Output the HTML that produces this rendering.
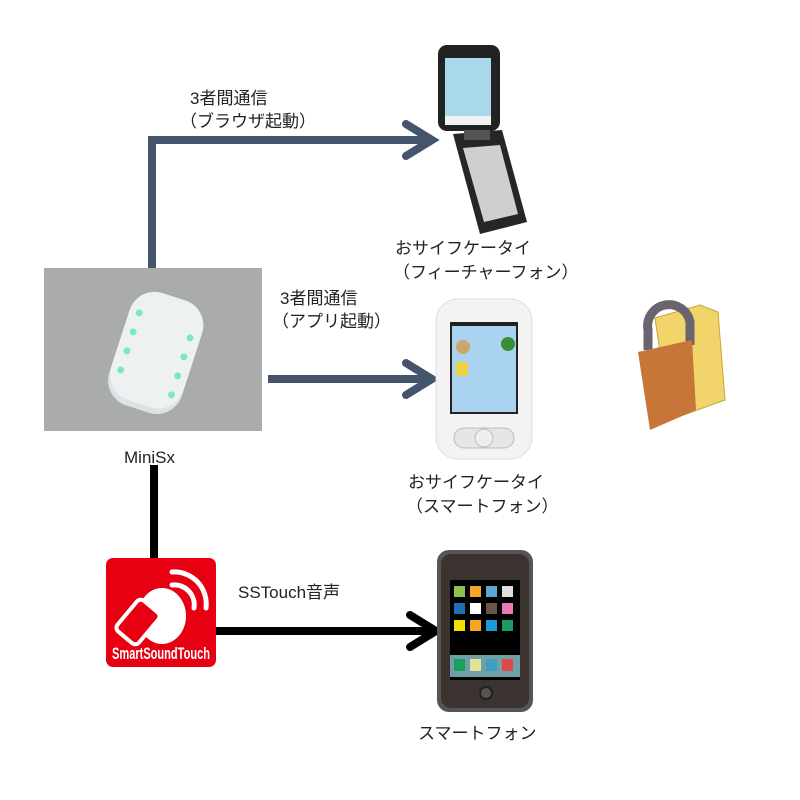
<!DOCTYPE html>
<html><head><meta charset="utf-8"><style>
html,body{margin:0;padding:0;background:#fff;width:800px;height:800px;overflow:hidden}
text{font-family:"Liberation Sans","Noto Sans CJK JP",sans-serif;font-size:17px;fill:#222}
</style></head><body>
<svg width="800" height="800" viewBox="0 0 800 800" xmlns="http://www.w3.org/2000/svg">
<g stroke="#44546a" stroke-width="8" fill="none" stroke-linejoin="miter">
<polyline points="152,270 152,140 430,140"/>
<polyline points="406,124 432,140 406,156" stroke-linecap="round"/>
<line x1="268" y1="379" x2="430" y2="379"/>
<polyline points="406,363 432,379 406,395" stroke-linecap="round"/>
</g>
<g stroke="#000" stroke-width="8" fill="none">
<line x1="154" y1="465" x2="154" y2="560"/>
<line x1="215" y1="631" x2="435" y2="631"/>
<polyline points="410,615 436,631 410,647" stroke-linecap="round"/>
</g>
<!-- MiniSx photo -->
<rect x="44" y="268" width="218" height="163" fill="#a9aca8"/>
<g transform="rotate(18 156 352)">
<rect x="118" y="294" width="76" height="118" rx="26" fill="#dde2e4"/>
<rect x="118" y="294" width="76" height="112" rx="26" fill="#eef1f2"/>
<g fill="#7fe8b8"><circle cx="128" cy="320" r="3.5"/><circle cx="128" cy="340" r="3.5"/><circle cx="128" cy="360" r="3.5"/><circle cx="128" cy="380" r="3.5"/>
<circle cx="184" cy="328" r="3.5"/><circle cx="184" cy="348" r="3.5"/><circle cx="184" cy="368" r="3.5"/><circle cx="184" cy="388" r="3.5"/></g>
</g>
<text x="124" y="463" font-size="16">MiniSx</text>
<text x="190" y="104">3者間通信</text>
<text x="180" y="127">（ブラウザ起動）</text>
<text x="280" y="304">3者間通信</text>
<text x="272" y="327">（アプリ起動）</text>
<text x="238" y="598">SSTouch音声</text>
<text x="395" y="254">おサイフケータイ</text>
<text x="393" y="278">（フィーチャーフォン）</text>
<text x="408" y="488">おサイフケータイ</text>
<text x="406" y="512">（スマートフォン）</text>
<text x="418" y="739">スマートフォン</text>
<!-- flip phone -->
<rect x="438" y="45" width="62" height="86" rx="9" fill="#222"/>
<rect x="445" y="58" width="46" height="58" fill="#a9d8ea"/>
<rect x="445" y="116" width="46" height="9" fill="#f2f2f2"/>
<polygon points="453,134 502,130 527,222 480,234" fill="#262626"/>
<polygon points="463,148 500,145 518,214 484,222" fill="#cfcfcf"/>
<rect x="464" y="130" width="26" height="10" fill="#555"/>
<!-- white smartphone -->
<rect x="436" y="299" width="96" height="160" rx="22" fill="#f3f3f3" stroke="#ddd"/>
<rect x="450" y="322" width="68" height="92" fill="#222"/>
<rect x="452" y="326" width="64" height="86" fill="#a9d3ee"/>
<circle cx="463" cy="347" r="7" fill="#c9a66b"/><circle cx="508" cy="344" r="7" fill="#3a8d35"/>
<rect x="456" y="362" width="12" height="14" fill="#f0d24a"/>
<rect x="454" y="428" width="60" height="20" rx="10" fill="#e6e6e6" stroke="#bbb"/>
<circle cx="484" cy="438" r="9" fill="#eee" stroke="#bbb"/>
<!-- SST logo -->
<rect x="106" y="558" width="110" height="109" rx="7" fill="#e60012"/>
<g fill="none" stroke="#fff" stroke-width="5" stroke-linecap="round">
<path d="M172 572 A32 32 0 0 1 206 608"/><path d="M172 585 A20 20 0 0 1 194 608"/>
</g>
<ellipse cx="162" cy="616" rx="24" ry="28" fill="#fff"/>
<rect x="124" y="602" width="28" height="40" rx="5" fill="#e60012" stroke="#fff" stroke-width="4" transform="rotate(40 138 622)"/>
<text x="112" y="659" font-size="10" font-weight="bold" textLength="98" lengthAdjust="spacingAndGlyphs" style="fill:#fff">SmartSoundTouch</text>
<!-- iPhone -->
<rect x="437" y="550" width="96" height="162" rx="12" fill="#555"/>
<rect x="441" y="554" width="88" height="154" rx="10" fill="#3a3330"/>
<rect x="450" y="580" width="70" height="100" fill="#000"/>
<g>
<rect x="454" y="586" width="11" height="11" fill="#8cc152"/><rect x="470" y="586" width="11" height="11" fill="#f6a623"/><rect x="486" y="586" width="11" height="11" fill="#5aa7d6"/><rect x="502" y="586" width="11" height="11" fill="#ddd"/>
<rect x="454" y="603" width="11" height="11" fill="#1f6fb5"/><rect x="470" y="603" width="11" height="11" fill="#fff"/><rect x="486" y="603" width="11" height="11" fill="#6b5548"/><rect x="502" y="603" width="11" height="11" fill="#e87ab5"/>
<rect x="454" y="620" width="11" height="11" fill="#f0e000"/><rect x="470" y="620" width="11" height="11" fill="#f6a623"/><rect x="486" y="620" width="11" height="11" fill="#1b9ad6"/><rect x="502" y="620" width="11" height="11" fill="#1a9a6a"/>
<rect x="450" y="655" width="70" height="22" fill="#6fa0a8"/>
<rect x="454" y="659" width="11" height="12" fill="#1aa05a"/><rect x="470" y="659" width="11" height="12" fill="#e4e39a"/><rect x="486" y="659" width="11" height="12" fill="#3f9fbf"/><rect x="502" y="659" width="11" height="12" fill="#e04848"/>
</g>
<circle cx="486" cy="693" r="6" fill="#555" stroke="#222" stroke-width="2"/>
<!-- lock folder -->
<path d="M655 318 L700 305 L718 312 L725 400 L670 420 Z" fill="#f2d56a" stroke="#c9a43a"/>
<path d="M648 350 L648 330 A20 20 0 0 1 690 322 L690 345" fill="none" stroke="#6a6470" stroke-width="9"/>
<path d="M638 352 L692 340 L696 410 L650 430 Z" fill="#c8753a"/>
</svg>
</body></html>
